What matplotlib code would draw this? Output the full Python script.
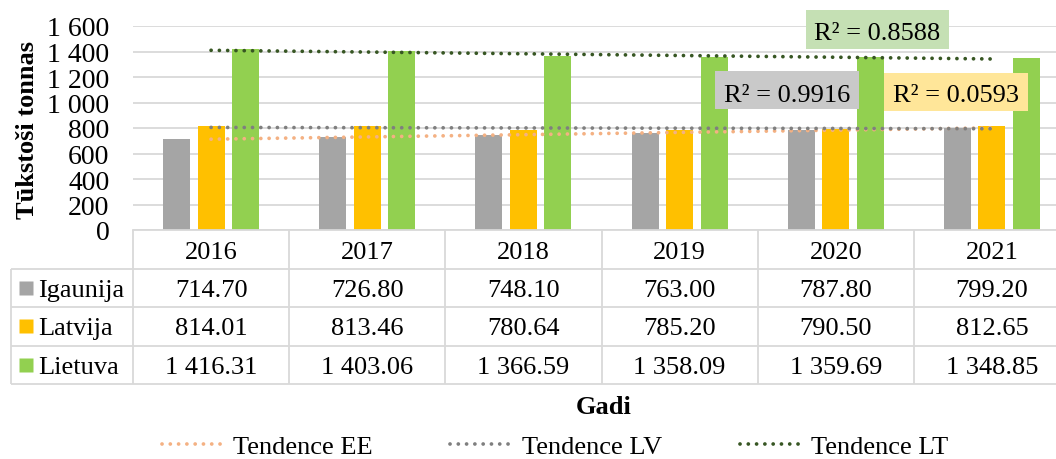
import numpy as np
import matplotlib
matplotlib.use("Agg")
import matplotlib.pyplot as plt
from matplotlib.lines import Line2D
from matplotlib.patches import Rectangle

# ---------------- data ----------------
years = ['2016', '2017', '2018', '2019', '2020', '2021']
series_names = ['Igaunija', 'Latvija', 'Lietuva']
igaunija = [714.70, 726.80, 748.10, 763.00, 787.80, 799.20]
latvija = [814.01, 813.46, 780.64, 785.20, 790.50, 812.65]
lietuva = [1416.31, 1403.06, 1366.59, 1358.09, 1359.69, 1348.85]
trend_names = ['Tendence EE', 'Tendence LV', 'Tendence LT']
y_ticks = [0, 200, 400, 600, 800, 1000, 1200, 1400, 1600]
y_label = 'Tūkstoši tonnas'
x_label = 'Gadi'

series = [igaunija, latvija, lietuva]
bar_colors = ['#a5a5a5', '#ffc000', '#92d050']
trend_colors = ['#f4b183', '#7f7f7f', '#375623']
r2_box_colors = ['#c9c9c9', '#ffe699', '#c5e0b4']

plt.rcParams['font.family'] = ['Liberation Serif', 'DejaVu Serif']
FS = 19
GRID = '#d9d9d9'

W, H = 1056, 460
fig = plt.figure(figsize=(W / 100, H / 100), dpi=100)


def fx(px):
    return px / W


def fy(py):
    return 1 - py / H


def fmt(v, dec=2):
    return f"{v:,.{dec}f}".replace(",", " ")


# ---------------- main axes ----------------
AX_L, AX_R, AX_T, AX_B = 133, 1070, 27, 231
ax = fig.add_axes([fx(AX_L), fy(AX_B), (AX_R - AX_L) / W, (AX_B - AX_T) / H])
x = np.arange(len(years))
off, bw = 0.221, 0.173
for i, (vals, c) in enumerate(zip(series, bar_colors)):
    ax.bar(x + (i - 1) * off, vals, width=bw, color=c, zorder=2)

ax.set_xlim(-0.5, len(years) - 0.5)
ax.set_ylim(0, 1600)
ax.set_yticks(y_ticks)
ax.set_yticklabels([fmt(t, 0) for t in y_ticks], fontsize=20)
ax.set_xticks([])
ax.tick_params(axis='y', length=0, pad=17)
ax.grid(axis='y', color=GRID, lw=1.3, zorder=0)
ax.set_axisbelow(True)
for s in ['top', 'right', 'left']:
    ax.spines[s].set_visible(False)
ax.spines['bottom'].set_color(GRID)
ax.spines['bottom'].set_linewidth(1.3)

# trend lines
dot_style = (0, (0.01, 2.2))
TLW = 2.7
r2_vals = []
for vals, c in zip(series, trend_colors):
    xx = x + 1
    p = np.polyfit(xx, vals, 1)
    yt = np.polyval(p, xx)
    ss_res = np.sum((np.array(vals) - yt) ** 2)
    ss_tot = np.sum((np.array(vals) - np.mean(vals)) ** 2)
    r2_vals.append(1 - ss_res / ss_tot)
    ax.plot(x, yt, color=c, lw=TLW, ls=dot_style, dash_capstyle='round',
            zorder=3, clip_on=False)

# R^2 labels (box centre x, box top y, width, height, baseline y) in pixels
r2_layout = [(787, 72, 144, 38, 101.5), (956, 74, 144, 38, 102.5), (877, 11, 143, 39, 40.5)]
for r2, col, (cx, top, bwid, bh, base) in zip(r2_vals, r2_box_colors, r2_layout):
    fig.add_artist(Rectangle((fx(cx - bwid / 2), fy(top + bh)), bwid / W, bh / H,
                             transform=fig.transFigure, facecolor=col,
                             edgecolor='none', zorder=5))
    fig.text(fx(cx), fy(base), f"R² = {r2:.4f}", ha='center', va='baseline',
             fontsize=FS, zorder=6)

# ---------------- table ----------------
TB_L, TB_B = 11, 385
tax = fig.add_axes([fx(TB_L), fy(TB_B), (AX_R - TB_L) / W, (TB_B - AX_B) / H])
unit = (AX_R - AX_L) / len(years)
xl = -0.5 - (AX_L - TB_L) / unit
tax.set_xlim(xl, len(years) - 0.5)
tax.set_ylim(4, 0)
tax.axis('off')
lk = dict(color=GRID, lw=1.3, clip_on=False, solid_capstyle='butt')
for r in range(1, 5):
    tax.plot([xl, len(years) - 0.5], [r, r], **lk)
for k in range(len(years) + 1):
    tax.plot([k - 0.5, k - 0.5], [0, 4], **lk)
tax.plot([xl, xl], [1, 4], **lk)

BASE = 0.29
for k, yr in enumerate(years):
    tax.text(k, 1 - BASE + 0.03, yr, ha='center', va='baseline', fontsize=FS)
for r, (name, vals, c) in enumerate(zip(series_names, series, bar_colors), start=1):
    for k, v in enumerate(vals):
        tax.text(k, r + 1 - BASE, fmt(v), ha='center', va='baseline', fontsize=FS)
    tax.plot([xl + (26 - TB_L) / unit], [r + 0.5], marker='s', ms=10, color=c,
             mec='none', clip_on=False)
    tax.text(xl + (38 - TB_L) / unit, r + 1 - BASE, name, ha='left', va='baseline',
             fontsize=FS)

# ---------------- labels & legend ----------------
fig.text(fx(28), fy(130), y_label, rotation=90, ha='center', va='center',
         fontsize=FS, fontweight='bold')
fig.text(fx(604), fy(414.5), x_label, ha='center', va='baseline',
         fontsize=FS, fontweight='bold')

handles = [Line2D([0], [0], color=c, lw=TLW, ls=dot_style, dash_capstyle='round')
           for c in trend_colors]
fig.legend(handles, trend_names, loc='center', bbox_to_anchor=(fx(555), fy(447)),
           ncol=3, frameon=False, fontsize=FS, handlelength=2.5,
           handletextpad=0.2, columnspacing=2.95, borderaxespad=0, borderpad=0)

fig.savefig('out.png', dpi=100)
